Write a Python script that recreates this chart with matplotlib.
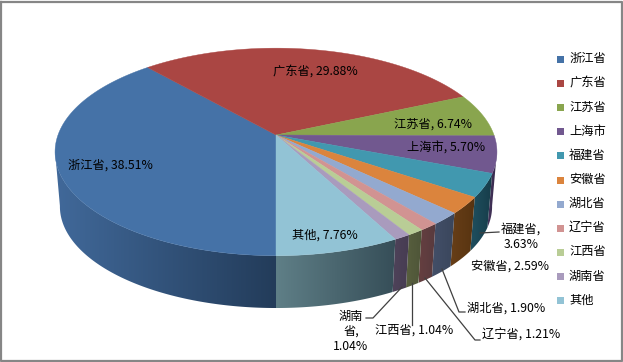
"""3D pie chart of province shares, drawn as projected polygons."""
import matplotlib
matplotlib.use("Agg")
import matplotlib.pyplot as plt
import numpy as np
from matplotlib.colors import to_rgb
from matplotlib.patches import Polygon

plt.rcParams["font.family"] = ["Noto Sans CJK SC", "DejaVu Sans"]

# Data
provinces = ["浙江省", "广东省", "江苏省", "上海市", "福建省", "安徽省",
             "湖北省", "辽宁省", "江西省", "湖南省", "其他"]
shares = [38.51, 29.88, 6.74, 5.70, 3.63, 2.59, 1.90, 1.21, 1.04, 1.04, 7.76]

# Slice colours: top face, then wall colour on the left and right of the slice
TOP_COLORS = ["#4572A7", "#AA4643", "#89A54E", "#71588F", "#4198AF", "#DB843D",
              "#93A9CF", "#D19392", "#B9CD96", "#A99BBD", "#92C3D5"]
WALL_LIGHT = ["#41699A", "#6e2c2a", "#5a6d33", "#46365c", "#1f5060", "#683f18",
              "#434f68", "#653f40", "#585f3e", "#4e4259", "#5f7f87"]
WALL_DARK = ["#233C5A", "#6e2c2a", "#5a6d33", "#36284c", "#173d4a", "#573310",
             "#3a465c", "#583a3e", "#4e5538", "#463c52", "#364e58"]

# Projection of the disc (pixels), k is the perspective strength
CX, CY = 276.0, 135.0
RX, RY = 218.0, 101.0
K = 0.163
DEPTH = 55.0
BASE_SCALE = 0.978
# the wall is only seen between the two silhouette angles of the disc
WALL_LEFT = np.radians(81.0)
WALL_RIGHT = np.radians(279.0)


def project(t, scale=1.0, drop=0.0):
    """Map clockwise angle from the front of the disc to pixel coordinates."""
    u, v = -np.sin(t), -np.cos(t)
    d = 1 + K * v
    return CX + scale * RX * u / d, CY + drop - scale * RY * v / d


def draw_wall(ax, t0, t1, light, dark):
    # horizontal gradient image clipped to the wall outline
    if t0 < WALL_LEFT:
        t1 = min(t1, WALL_LEFT)
    else:
        t0 = max(t0, WALL_RIGHT)
    if t1 <= t0:
        return
    ts = np.linspace(t0, t1, 200)
    xs, ys = project(ts)
    xb, yb = project(ts, BASE_SCALE, DEPTH)
    px = np.r_[xs, xb[::-1]]
    py = np.r_[ys, yb[::-1]]
    light, dark = np.array(to_rgb(light)), np.array(to_rgb(dark))
    ramp = np.linspace(0, 1, 256)[None, :, None]
    img = light + (dark - light) * ramp
    im = ax.imshow(img, extent=(px.min(), px.max(), py.max(), py.min()),
                   aspect="auto", zorder=2, interpolation="bilinear")
    outline = Polygon(np.c_[px, py], closed=True, transform=ax.transData,
                      fc="none", ec="none")
    ax.add_patch(outline)
    im.set_clip_path(outline)


def draw_pie(ax):
    edges = np.radians(np.cumsum([0.0] + shares) * 3.6)
    for i in range(len(shares)):
        draw_wall(ax, edges[i], edges[i + 1], WALL_LIGHT[i], WALL_DARK[i])
    for i in range(len(shares)):
        ts = np.linspace(edges[i], edges[i + 1], 120)
        xs, ys = project(ts)
        ax.fill(np.r_[CX, xs], np.r_[CY, ys], color=TOP_COLORS[i], lw=0.3, zorder=3)


def main():
    fig = plt.figure(figsize=(6.23, 3.62), dpi=100)
    ax = fig.add_axes([0, 0, 1, 1])
    ax.axis("off")

    draw_pie(ax)

    # Chart border
    ax.plot([1, 621.5, 621.5, 1, 1], [1.5, 1.5, 360.5, 360.5, 1.5],
            color="#868686", lw=1.6, zorder=1)
    ax.set_xlim(0, 623)
    ax.set_ylim(362, 0)

    # Data labels
    label = [f"{p}, {s:.2f}%" for p, s in zip(provinces, shares)]
    fs = 8.8
    inside = {0: (110, 165), 1: (315, 71), 2: (433, 124), 3: (446, 148), 10: (325, 235)}
    outside = {5: (510, 266), 6: (506, 308), 7: (521, 335), 8: (414, 330)}
    for idx, pos in {**inside, **outside}.items():
        ax.text(*pos, label[idx], fontsize=fs, ha="center", va="center", zorder=6)
    ax.text(521, 237, f"{provinces[4]},\n{shares[4]:.2f}%", fontsize=fs,
            ha="center", va="center", linespacing=1.2, zorder=6)
    ax.text(351, 331, f"湖南\n省,\n{shares[9]:.2f}%", fontsize=fs,
            ha="center", va="center", linespacing=1.2, zorder=6)

    # Leader lines
    leaders = [
        ([480, 499], [233, 232]),
        ([442, 459, 465], [269, 312, 312]),
        ([425, 475, 480], [278, 340, 340]),
        ([412, 412], [283, 325]),
        ([402, 373, 366], [287, 318, 318]),
    ]
    for lx, ly in leaders:
        ax.plot(lx, ly, color="#404040", lw=0.9, zorder=5)

    # Legend
    for i, name in enumerate(provinces):
        y = 59.3 + i * 24.14
        ax.fill([557, 564, 564, 557], [y - 3.5, y - 3.5, y + 3.5, y + 3.5],
                color=TOP_COLORS[i], lw=0, zorder=4)
        ax.text(569, y - 0.5, name, fontsize=fs, va="center", zorder=6)

    fig.savefig("out.png", dpi=100, facecolor="white")
    plt.close(fig)


if __name__ == "__main__":
    main()
